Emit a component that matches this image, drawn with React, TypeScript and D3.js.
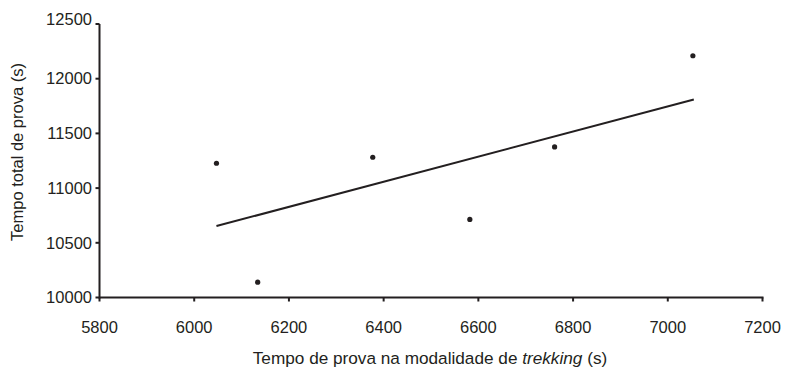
import * as d3 from "d3";

// trekking time (s) vs total race time (s)
const trekkingTimes = [6047, 6134, 6377, 6582, 6761, 7053];
const totalTimes = [11227, 10140, 11282, 10714, 11376, 12210];
const fitStart = [6047, 10653];
const fitEnd = [7055, 11810];
const xTicks = [5800, 6000, 6200, 6400, 6600, 6800, 7000, 7200];
const yTicks = [10000, 10500, 11000, 11500, 12000, 12500];

const width = 785;
const height = 369;
const ink = "#231f20";
const font = "'Liberation Sans', Arial, sans-serif";

export default function App() {
  const x = d3.scaleLinear().domain([5800, 7200]).range([99.5, 762.5]);
  const y = d3.scaleLinear().domain([10000, 12500]).range([297.5, 24]);
  const fitLine = d3.line<number[]>().x(d => x(d[0])).y(d => y(d[1]));

  return (
    <svg width={width} height={height} style={{position: "absolute", left: 0, top: 0, background: "#fff"}}
         fontFamily={font} fill={ink}>
      {/* axes */}
      <line x1={x(5800)} x2={x(7200) + 1} y1={y(10000)} y2={y(10000)} stroke={ink} strokeWidth={2}/>
      <line x1={x(5800)} x2={x(5800)} y1={y(12500)} y2={y(10000) + 1} stroke={ink} strokeWidth={2}/>

      {xTicks.map(t => (
        <g key={t}>
          <line x1={x(t)} x2={x(t)} y1={y(10000)} y2={y(10000) + 4} stroke={ink} strokeWidth={2}/>
          <text x={x(t)} y={333} textAnchor="middle" fontSize={16.5}>{t}</text>
        </g>
      ))}
      {yTicks.map(t => (
        <g key={t}>
          <line x1={x(5800) - 4} x2={x(5800)} y1={y(t)} y2={y(t)} stroke={ink} strokeWidth={2}/>
          <text x={92} y={y(t) + (t === 12500 ? -5 : 0)} dy="0.35em" textAnchor="end" fontSize={16.5}>{t}</text>
        </g>
      ))}

      {/* regression line */}
      <path d={fitLine([fitStart, fitEnd]) ?? ""} fill="none" stroke={ink} strokeWidth={2}/>

      {/* points */}
      {trekkingTimes.map((t, i) => (
        <circle key={i} cx={x(t)} cy={y(totalTimes[i])} r={2.6} fill={ink}/>
      ))}

      <text x={430} y={364} textAnchor="middle" fontSize={17.2}>
        Tempo de prova na modalidade de <tspan fontStyle="italic">trekking</tspan> (s)
      </text>
      <text transform={`translate(23,${152}) rotate(-90)`} textAnchor="middle" fontSize={16.5}>
        Tempo total de prova (s)
      </text>
    </svg>
  );
}
